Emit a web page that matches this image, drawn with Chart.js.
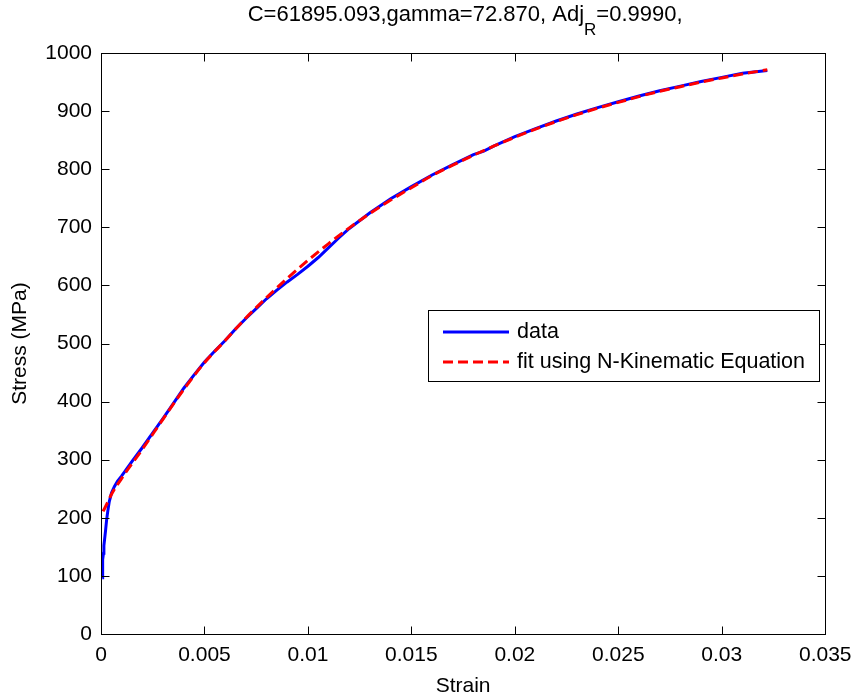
<!DOCTYPE html>
<html>
<head>
<meta charset="utf-8">
<title>Stress-strain fit</title>
<script src="https://cdn.jsdelivr.net/npm/chart.js@4"></script>
<style>
  html, body { margin: 0; padding: 0; background: #ffffff; }
  #c { display: block; }
</style>
</head>
<body>
<canvas id="c" width="860" height="700"></canvas>
<script>
// Measured stress-strain curve
const strainData = [0.00006, 0.00007, 0.00009, 0.00012, 0.00014, 0.00018, 0.00022, 0.00027, 0.00033, 0.0004,
  0.00051, 0.00065, 0.0008, 0.001, 0.0015, 0.002, 0.0025, 0.003, 0.0035, 0.004,
  0.0045, 0.005, 0.0055, 0.006, 0.0065, 0.007, 0.0075, 0.008, 0.0085, 0.009,
  0.0095, 0.010, 0.0105, 0.011, 0.0115, 0.012, 0.013, 0.014, 0.015, 0.016,
  0.017, 0.018, 0.0185, 0.019, 0.020, 0.021, 0.022, 0.023, 0.024, 0.025,
  0.026, 0.027, 0.028, 0.029, 0.030, 0.031, 0.0322];
const stressData = [97, 110, 128, 139, 152, 165, 178, 196, 212, 228,
  243, 254, 263, 272, 297, 321, 346, 371, 397, 423,
  446, 468, 487, 505, 525, 543, 560, 577, 592, 606,
  619, 633, 648, 665, 682, 698, 725, 749, 770, 790,
  808, 825, 831, 840, 856, 870, 883, 895, 906, 916,
  926, 935, 943, 951, 958, 965, 970];

// Fitted N-Kinematic curve
const strainFit = [0.0001, 0.0003, 0.0005, 0.001, 0.002, 0.003, 0.004, 0.005, 0.006, 0.007,
  0.008, 0.009, 0.010, 0.011, 0.012, 0.013, 0.014, 0.015, 0.016, 0.017,
  0.018, 0.019, 0.020, 0.021, 0.022, 0.023, 0.024, 0.025, 0.026, 0.027,
  0.028, 0.029, 0.030, 0.031, 0.0322];
const stressFit = [211, 225, 240, 268, 318, 370, 421, 467, 505, 544,
  579, 612, 643, 672, 699, 724, 747, 768, 789, 807,
  824, 840, 855, 869, 882, 894, 905, 915, 925, 934,
  942, 950, 957, 964, 971];

// Axis ticks
const xTickValues = [0, 0.005, 0.01, 0.015, 0.02, 0.025, 0.03, 0.035];
const xTickLabels = ['0', '0.005', '0.01', '0.015', '0.02', '0.025', '0.03', '0.035'];
const yTickValues = [0, 100, 200, 300, 400, 500, 600, 700, 800, 900, 1000];
const yTickLabels = ['0', '100', '200', '300', '400', '500', '600', '700', '800', '900', '1000'];

const seriesNames = ['data', 'fit using N-Kinematic Equation'];
const titleParts = ['C=61895.093,gamma=72.870, Adj', 'R', '=0.9990,'];

const FONT = '"Liberation Sans", Arial, Helvetica, sans-serif';
const FS = 21;

function labelFor(values, labels, v) {
  for (let i = 0; i < values.length; i++) {
    if (Math.abs(values[i] - v) < 1e-9) return labels[i];
  }
  return '';
}

// Box, inward tick marks, legend and title with subscript
const decorPlugin = {
  id: 'decor',
  afterDraw(chart) {
    const { ctx, chartArea: a, scales } = chart;
    const xs = scales.x, ys = scales.y;
    const L = Math.round(a.left) + 0.5, R = Math.round(a.right) + 0.5;
    const T = Math.round(a.top) + 0.5, B = Math.round(a.bottom) + 0.5;
    const tl = 8;
    ctx.save();
    ctx.strokeStyle = '#000';
    ctx.lineWidth = 1;
    ctx.beginPath();
    xTickValues.forEach(v => {
      const px = Math.round(xs.getPixelForValue(v)) + 0.5;
      ctx.moveTo(px, B); ctx.lineTo(px, B - tl);
      ctx.moveTo(px, T); ctx.lineTo(px, T + tl);
    });
    yTickValues.forEach(v => {
      const py = Math.round(ys.getPixelForValue(v)) + 0.5;
      ctx.moveTo(L, py); ctx.lineTo(L + tl, py);
      ctx.moveTo(R, py); ctx.lineTo(R - tl, py);
    });
    ctx.stroke();
    ctx.strokeRect(L, T, R - L, B - T);

    // legend
    const lx = 428.5, ly = 310.5, lw = 391, lh = 71;
    ctx.fillStyle = '#fff';
    ctx.fillRect(lx, ly, lw, lh);
    ctx.strokeStyle = '#000';
    ctx.lineWidth = 1;
    ctx.strokeRect(lx, ly, lw, lh);
    const rows = [332, 362];
    chart.data.datasets.forEach((ds) => {
      const idx = ds.legendIndex;
      const y = rows[idx];
      ctx.save();
      ctx.strokeStyle = ds.borderColor;
      ctx.lineWidth = ds.borderWidth;
      ctx.setLineDash(ds.borderDash || []);
      ctx.beginPath();
      ctx.moveTo(443, y);
      ctx.lineTo(509, y);
      ctx.stroke();
      ctx.restore();
      ctx.fillStyle = '#000';
      ctx.font = '21.5px ' + FONT;
      ctx.textAlign = 'left';
      ctx.textBaseline = 'middle';
      ctx.fillText(seriesNames[idx], 517, y);
    });

    // title
    const mainFont = '22px ' + FONT;
    const subFont = '17px ' + FONT;
    ctx.font = mainFont;
    const w0 = ctx.measureText(titleParts[0]).width;
    const w2 = ctx.measureText(titleParts[2]).width;
    ctx.font = subFont;
    const w1 = ctx.measureText(titleParts[1]).width;
    const total = w0 + w1 + w2;
    let x = (a.left + a.right) / 2 + 2 - total / 2;
    ctx.fillStyle = '#000';
    ctx.textAlign = 'left';
    ctx.textBaseline = 'alphabetic';
    ctx.font = mainFont;
    ctx.fillText(titleParts[0], x, 20.5);
    x += w0;
    ctx.font = subFont;
    ctx.fillText(titleParts[1], x, 35);
    x += w1;
    ctx.font = mainFont;
    ctx.fillText(titleParts[2], x, 20.5);
    ctx.restore();
  }
};

const dataPoints = strainData.map((s, i) => ({ x: s, y: stressData[i] }));
const fitPoints = strainFit.map((s, i) => ({ x: s, y: stressFit[i] }));

new Chart(document.getElementById('c'), {
  type: 'scatter',
  data: {
    datasets: [
      {
        label: seriesNames[0],
        legendIndex: 0,
        data: dataPoints,
        showLine: true,
        borderColor: '#0000ff',
        backgroundColor: '#0000ff',
        borderWidth: 3,
        pointRadius: 0,
        tension: 0,
        order: 1
      },
      {
        label: seriesNames[1],
        legendIndex: 1,
        data: fitPoints,
        showLine: true,
        borderColor: '#ff0000',
        backgroundColor: '#ff0000',
        borderWidth: 3,
        borderDash: [10, 5],
        pointRadius: 0,
        cubicInterpolationMode: 'monotone',
        order: 0
      }
    ]
  },
  options: {
    responsive: false,
    devicePixelRatio: 1,
    animation: false,
    layout: { padding: { left: 0, right: 32, top: 53, bottom: 0 } },
    plugins: {
      legend: { display: false },
      title: { display: false },
      tooltip: { enabled: false }
    },
    scales: {
      x: {
        type: 'linear',
        min: 0,
        max: 0.035,
        afterFit(scale) { scale.height = 66; },
        afterBuildTicks(scale) { scale.ticks = xTickValues.map(v => ({ value: v })); },
        grid: { display: false, drawTicks: false },
        border: { display: false },
        ticks: {
          padding: 8.5,
          maxRotation: 0,
          autoSkip: false,
          color: '#000',
          font: { family: FONT, size: FS },
          callback: (v) => labelFor(xTickValues, xTickLabels, v)
        },
        title: {
          display: true,
          text: 'Strain',
          color: '#000',
          font: { family: FONT, size: FS },
          padding: { top: 0, bottom: 1.5 }
        }
      },
      y: {
        type: 'linear',
        min: 0,
        max: 1000,
        afterFit(scale) { scale.width = 101; },
        afterBuildTicks(scale) { scale.ticks = yTickValues.map(v => ({ value: v })); },
        grid: { display: false, drawTicks: false },
        border: { display: false },
        ticks: {
          padding: 9,
          autoSkip: false,
          color: '#000',
          font: { family: FONT, size: FS },
          callback: (v) => labelFor(yTickValues, yTickLabels, v)
        },
        title: {
          display: true,
          text: 'Stress (MPa)',
          color: '#000',
          font: { family: FONT, size: FS },
          padding: { top: 7.5, bottom: 0 }
        }
      }
    }
  },
  plugins: [decorPlugin]
});
</script>
</body>
</html>
